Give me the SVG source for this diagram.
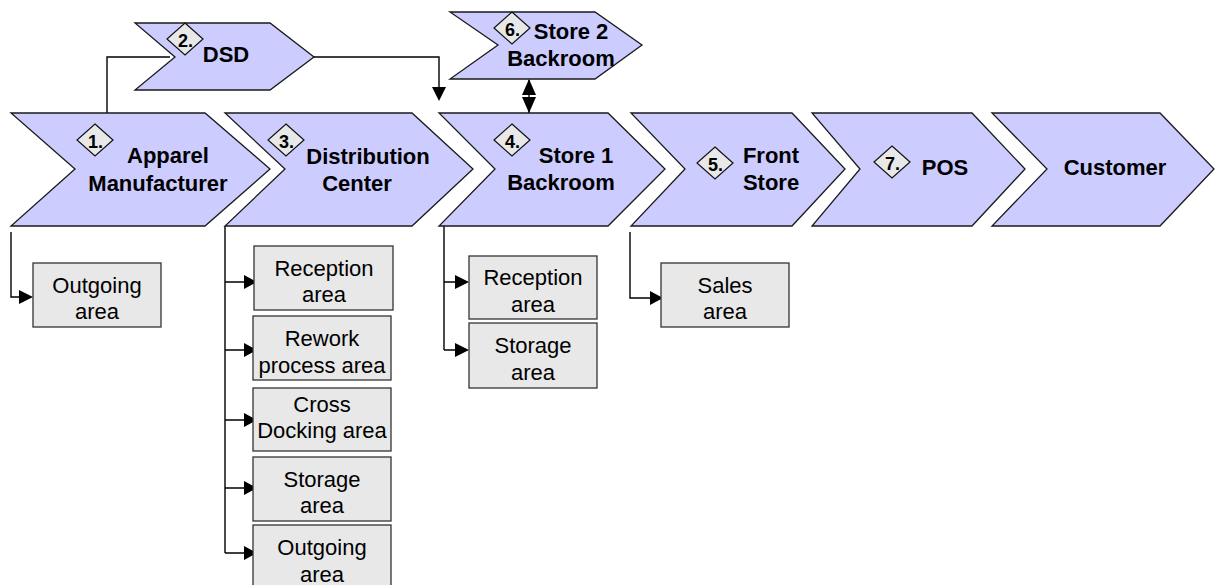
<svg xmlns="http://www.w3.org/2000/svg" width="1215" height="585" viewBox="0 0 1215 585">
<defs>
<style>
.chev{fill:#ccccff;stroke:#1a1a1a;stroke-width:1.3}
.box{fill:#e8e8e8;stroke:#333;stroke-width:1.3}
.dia{fill:#e8e8e8;stroke:#111;stroke-width:1.2}
.lbl{font-family:"Liberation Sans",Arial,sans-serif;font-size:22px;font-weight:bold;fill:#000}
.num{font-family:"Liberation Sans",Arial,sans-serif;font-size:18px;font-weight:bold;fill:#000;text-anchor:middle}
.btx{font-family:"Liberation Sans",Arial,sans-serif;font-size:22px;fill:#000;text-anchor:middle}
.ln{fill:none;stroke:#000;stroke-width:1.4}
.ah{fill:#000}
</style>
</defs>
<rect width="1215" height="585" fill="#fff"/>
<g id="connectors">
<path class="ln" d="M107,113 V57 H170"/>
<path class="ln" d="M314,57 H439 V88"/>
<polygon class="ah" points="432,87 446,87 439,101"/>
<path class="ln" d="M529,80 V113"/>
<polygon class="ah" points="522,95 536,95 529,79"/>
<polygon class="ah" points="522,97 536,97 529,113"/>
<path class="ln" d="M11,232 V297 H20"/>
<polygon class="ah" points="19,290 19,304 33,297"/>
<path class="ln" d="M225,226 V553 M225,282 H245 M225,350 H245 M225,420 H245 M225,488 H245 M225,553 H245"/>
<polygon class="ah" points="244,275 244,289 257,282"/>
<polygon class="ah" points="244,343 244,357 257,350"/>
<polygon class="ah" points="244,413 244,427 257,420"/>
<polygon class="ah" points="244,481 244,495 257,488"/>
<polygon class="ah" points="244,546 244,560 257,553"/>
<path class="ln" d="M444,226 V350 M444,282 H456 M444,350 H456"/>
<polygon class="ah" points="455,275 455,289 469,282"/>
<polygon class="ah" points="455,343 455,357 469,350"/>
<path class="ln" d="M630,232 V298 H651"/>
<polygon class="ah" points="650,291 650,305 663,298"/>
</g>
<g id="n1">
<polygon class="chev" points="11,113 205,113 270,169 205,226 11,226 75,169"/>
<polygon class="dia" points="95,124 113,140 95,156 77,140"/>
<text class="num" x="95.5" y="148">1.</text>
<text class="lbl" x="168" y="163" text-anchor="middle">Apparel</text>
<text class="lbl" x="158" y="191" text-anchor="middle">Manufacturer</text>
</g>
<g id="n2">
<polygon class="chev" points="135,23 270,23 314,57 270,90 135,90 175,57"/>
<polygon class="dia" points="185,23 203,39 185,55 167,39"/>
<text class="num" x="185.5" y="47">2.</text>
<text class="lbl" x="226" y="62" text-anchor="middle">DSD</text>
</g>
<g id="n3">
<polygon class="chev" points="225,113 412,113 473,169 412,226 225,226 285,169"/>
<polygon class="dia" points="286,124 304,140 286,156 268,140"/>
<text class="num" x="286.5" y="148">3.</text>
<text class="lbl" x="368" y="164" text-anchor="middle">Distribution</text>
<text class="lbl" x="357" y="191" text-anchor="middle">Center</text>
</g>
<g id="n4">
<polygon class="chev" points="439,113 608,113 665,169 608,226 439,226 495,169"/>
<polygon class="dia" points="512,124 530,140 512,156 494,140"/>
<text class="num" x="512.5" y="148">4.</text>
<text class="lbl" x="576" y="163" text-anchor="middle">Store 1</text>
<text class="lbl" x="561" y="190" text-anchor="middle">Backroom</text>
</g>
<g id="n5">
<polygon class="chev" points="631,113 792,113 845,169 792,226 631,226 685,169"/>
<polygon class="dia" points="715,147 733,163 715,179 697,163"/>
<text class="num" x="715.5" y="171">5.</text>
<text class="lbl" x="771" y="163" text-anchor="middle">Front</text>
<text class="lbl" x="771" y="190" text-anchor="middle">Store</text>
</g>
<g id="n6">
<polygon class="chev" points="450,12 595,12 642,45 595,79 450,79 498,45"/>
<polygon class="dia" points="512,12 530,28 512,44 494,28"/>
<text class="num" x="512.5" y="36">6.</text>
<text class="lbl" x="571" y="39" text-anchor="middle">Store 2</text>
<text class="lbl" x="561" y="66" text-anchor="middle">Backroom</text>
</g>
<g id="n7">
<polygon class="chev" points="812,113 972,113 1025,169 972,226 812,226 860,169"/>
<polygon class="dia" points="892,146 910,162 892,178 874,162"/>
<text class="num" x="892.5" y="170">7.</text>
<text class="lbl" x="945" y="175" text-anchor="middle">POS</text>
</g>
<g id="n8">
<polygon class="chev" points="992,113 1160,113 1214,169 1160,226 992,226 1047,169"/>
<text class="lbl" x="1115" y="175" text-anchor="middle">Customer</text>
</g>
<g id="b1">
<rect class="box" x="33" y="263" width="128" height="64"/>
<text class="btx" x="97" y="293">Outgoing</text>
<text class="btx" x="97" y="319">area</text>
</g>
<g id="b2">
<rect class="box" x="254" y="246" width="139" height="64"/>
<text class="btx" x="324" y="276">Reception</text>
<text class="btx" x="324" y="302">area</text>
</g>
<g id="b3">
<rect class="box" x="253" y="316" width="138" height="64"/>
<text class="btx" x="322" y="346">Rework</text>
<text class="btx" x="322" y="373">process area</text>
</g>
<g id="b4">
<rect class="box" x="253" y="388" width="138" height="63"/>
<text class="btx" x="322" y="412">Cross</text>
<text class="btx" x="322" y="438">Docking area</text>
</g>
<g id="b5">
<rect class="box" x="253" y="457" width="138" height="64"/>
<text class="btx" x="322" y="487">Storage</text>
<text class="btx" x="322" y="513">area</text>
</g>
<g id="b6">
<rect class="box" x="253" y="525" width="138" height="64"/>
<text class="btx" x="322" y="555">Outgoing</text>
<text class="btx" x="322" y="582">area</text>
</g>
<g id="b7">
<rect class="box" x="469" y="256" width="128" height="63"/>
<text class="btx" x="533" y="285">Reception</text>
<text class="btx" x="533" y="312">area</text>
</g>
<g id="b8">
<rect class="box" x="469" y="323" width="128" height="65"/>
<text class="btx" x="533" y="353">Storage</text>
<text class="btx" x="533" y="380">area</text>
</g>
<g id="b9">
<rect class="box" x="661" y="263" width="128" height="64"/>
<text class="btx" x="725" y="293">Sales</text>
<text class="btx" x="725" y="319">area</text>
</g>
</svg>
